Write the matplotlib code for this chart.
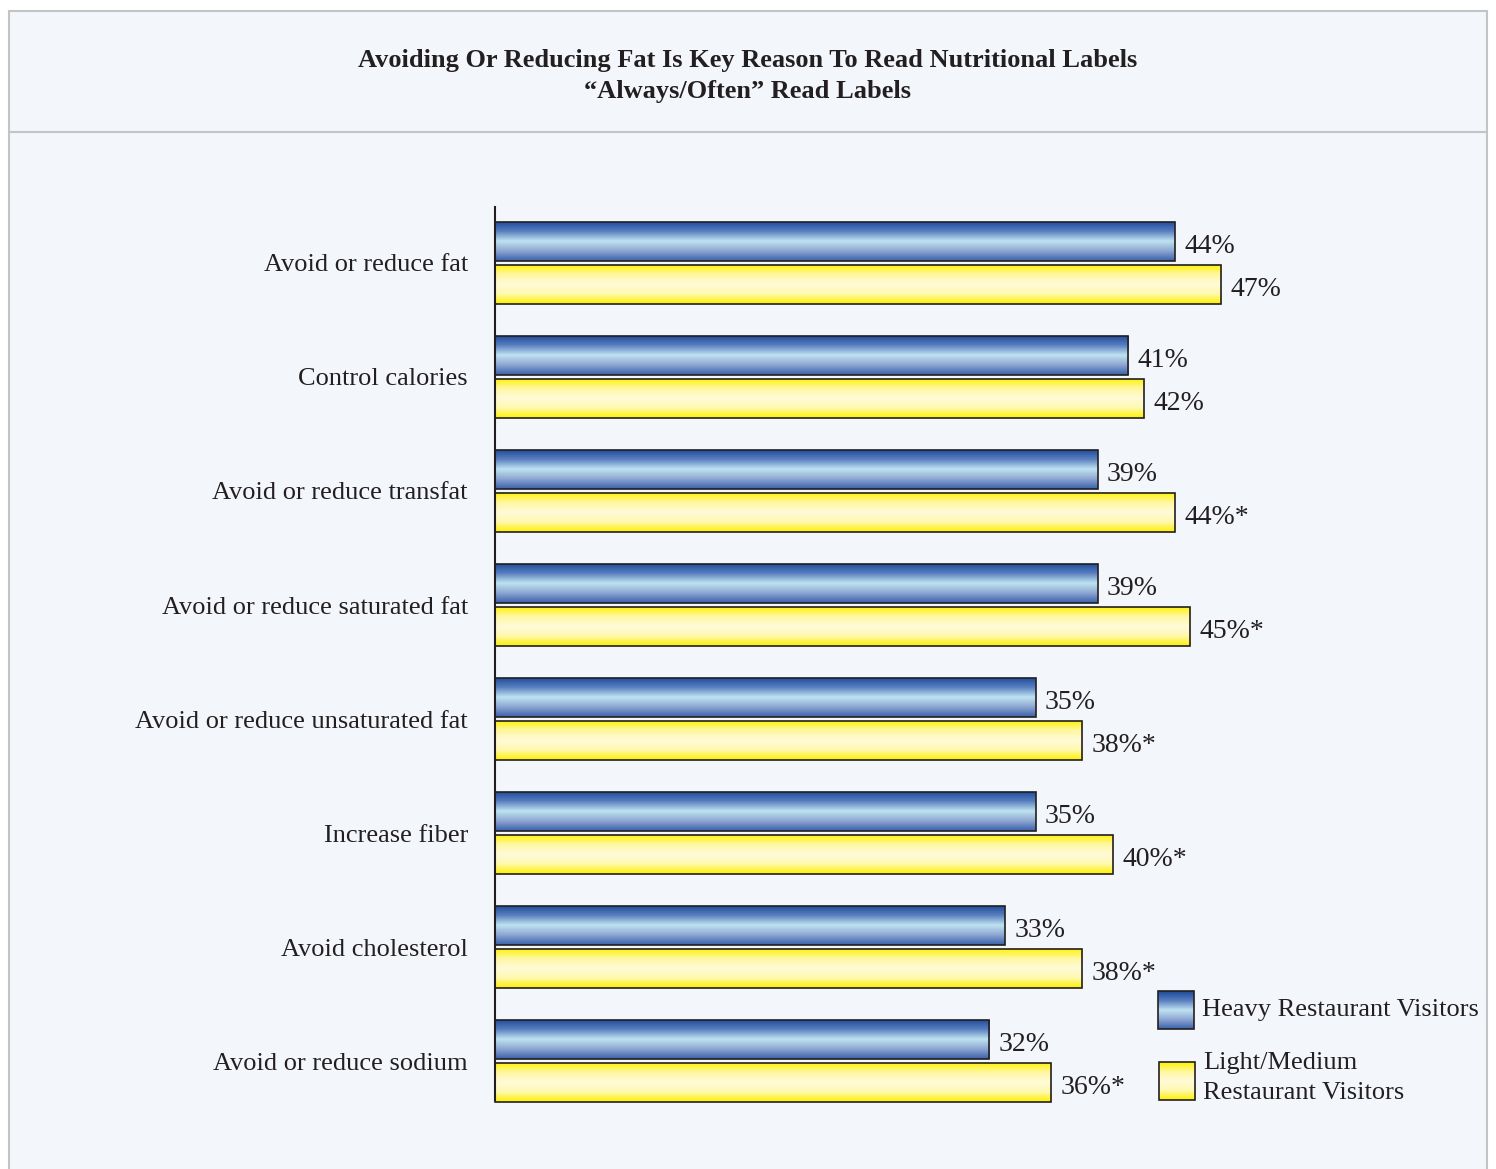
import numpy as np
import matplotlib
matplotlib.use("Agg")
import matplotlib.pyplot as plt
import matplotlib.transforms as mtransforms
from matplotlib.patches import Rectangle
from matplotlib.lines import Line2D
from matplotlib.colors import LinearSegmentedColormap, to_rgb

categories = [
    "Avoid or reduce fat",
    "Control calories",
    "Avoid or reduce transfat",
    "Avoid or reduce saturated fat",
    "Avoid or reduce unsaturated fat",
    "Increase fiber",
    "Avoid cholesterol",
    "Avoid or reduce sodium",
]
heavy = [44, 41, 39, 39, 35, 35, 33, 32]
light = [47, 42, 44, 45, 38, 40, 38, 36]
light_sig = [False, False, True, True, True, True, True, True]
series_names = ["Heavy Restaurant Visitors", "Light/Medium\nRestaurant Visitors"]

title = "Avoiding Or Reducing Fat Is Key Reason To Read Nutritional Labels\n\u201cAlways/Often\u201d Read Labels"

SERIF = ["Liberation Serif", "DejaVu Serif"]
TXT = "#231f20"
BG = "#f3f6fb"
FS = 19
FS_VAL = 20

# vertical colour ramps for the tube-like bars (top -> bottom)
blue_stops = ["#1c4b9b", "#5a7fbf", "#bfe3f1", "#8ea6d2", "#3a62ab"]
yellow_stops = ["#fff200", "#fff7a0", "#fffbd8", "#fff9b0", "#fff000"]


def ramp(stops, n=64):
    cmap = LinearSegmentedColormap.from_list("r", [to_rgb(c) for c in stops])
    return cmap(np.linspace(0, 1, n))[:, :3].reshape(n, 1, 3)


blue_grad = ramp(blue_stops)
yellow_grad = ramp(yellow_stops)

W, H = 1496, 1169
fig = plt.figure(figsize=(W / 100, H / 100), dpi=100)
fig.patch.set_facecolor("white")

# outer panel and header divider
fig.patches.append(Rectangle((9 / W, -0.01), (1487 - 9) / W, 1.01 - 11 / H, transform=fig.transFigure,
                             facecolor=BG, edgecolor="#c4c4c4", linewidth=1.5, zorder=-10))
fig.lines.append(Line2D([9 / W, 1487 / W], [1 - 132 / H, 1 - 132 / H], transform=fig.transFigure,
                        color="#c4c4c4", linewidth=1.5, zorder=-9))

fig.text(748 / W, 1 - 76 / H, title, ha="center", va="center", fontsize=FS,
         fontweight="bold", family=SERIF, color=TXT, linespacing=1.42)

# axes: 0..60 % across, groups stacked top-down
ax = fig.add_axes([495 / W, 1 - 1100 / H, (60 * 15.45) / W, (1100 - 207) / H])
ax.set_facecolor("none")

n = len(categories)
ypos = np.arange(n)
bh = 0.342
off = 0.19


def gradient_bars(y, vals, grad):
    bars = ax.barh(y, vals, height=bh, color="none", edgecolor="#231f20",
                   linewidth=1.2, zorder=3)
    for b in bars:
        b.set_clip_on(False)
        x0, y0 = b.get_x(), b.get_y()
        w, h = b.get_width(), b.get_height()
        im = ax.imshow(grad, extent=(x0, x0 + w, y0 + h, y0), origin="upper",
                       aspect="auto", interpolation="bilinear", zorder=2)
        im.set_clip_path(b)
    return bars


hb = gradient_bars(ypos - off, heavy, blue_grad)
lb = gradient_bars(ypos + off, light, yellow_grad)

# value labels sit a little below the geometric centre of each bar
lbl_tr = ax.transData + mtransforms.ScaledTranslation(0, -5 / 100, fig.dpi_scale_trans)
for y, v in zip(ypos - off, heavy):
    ax.text(v + 0.6, y, f"{v}%", va="center", ha="left", fontsize=FS_VAL,
            family=SERIF, color=TXT, transform=lbl_tr)
for y, v, s in zip(ypos + off, light, light_sig):
    ax.text(v + 0.6, y, f"{v}%" + ("*" if s else ""), va="center", ha="left",
            fontsize=FS_VAL, family=SERIF, color=TXT, transform=lbl_tr)

ax.set_xlim(0, 60)
ax.set_ylim(n - 1 + 0.34, -0.49)
ax.set_yticks(ypos)
ax.set_yticklabels(categories, fontsize=FS, family=SERIF, color=TXT)
ax.tick_params(axis="y", length=0, pad=19.5)
ax.set_xticks([])
for s in ["top", "right", "bottom"]:
    ax.spines[s].set_visible(False)
ax.spines["left"].set_color("#231f20")
ax.spines["left"].set_linewidth(1.5)

# legend swatches with the same ramps
lax = fig.add_axes([0, 0, 1, 1], zorder=5)
lax.axis("off")
for (x0, y0, grad, label, ty) in [
    (1158, 991, blue_grad, series_names[0], 1010),
    (1159, 1062, yellow_grad, series_names[1], 1078),
]:
    rect = Rectangle((x0, y0), 36, 38, facecolor="none", edgecolor="#231f20", linewidth=1.2, zorder=3)
    lax.add_patch(rect)
    im = lax.imshow(grad, extent=(x0, x0 + 36, y0 + 38, y0), origin="upper",
                    aspect="auto", interpolation="bilinear", zorder=2)
    im.set_clip_path(rect)
    lax.text(x0 + 44, ty, label, va="center", ha="left", fontsize=FS,
             family=SERIF, color=TXT, linespacing=1.42)
lax.set_xlim(0, W)
lax.set_ylim(H, 0)

fig.savefig("out.png", dpi=100, facecolor=fig.get_facecolor())
